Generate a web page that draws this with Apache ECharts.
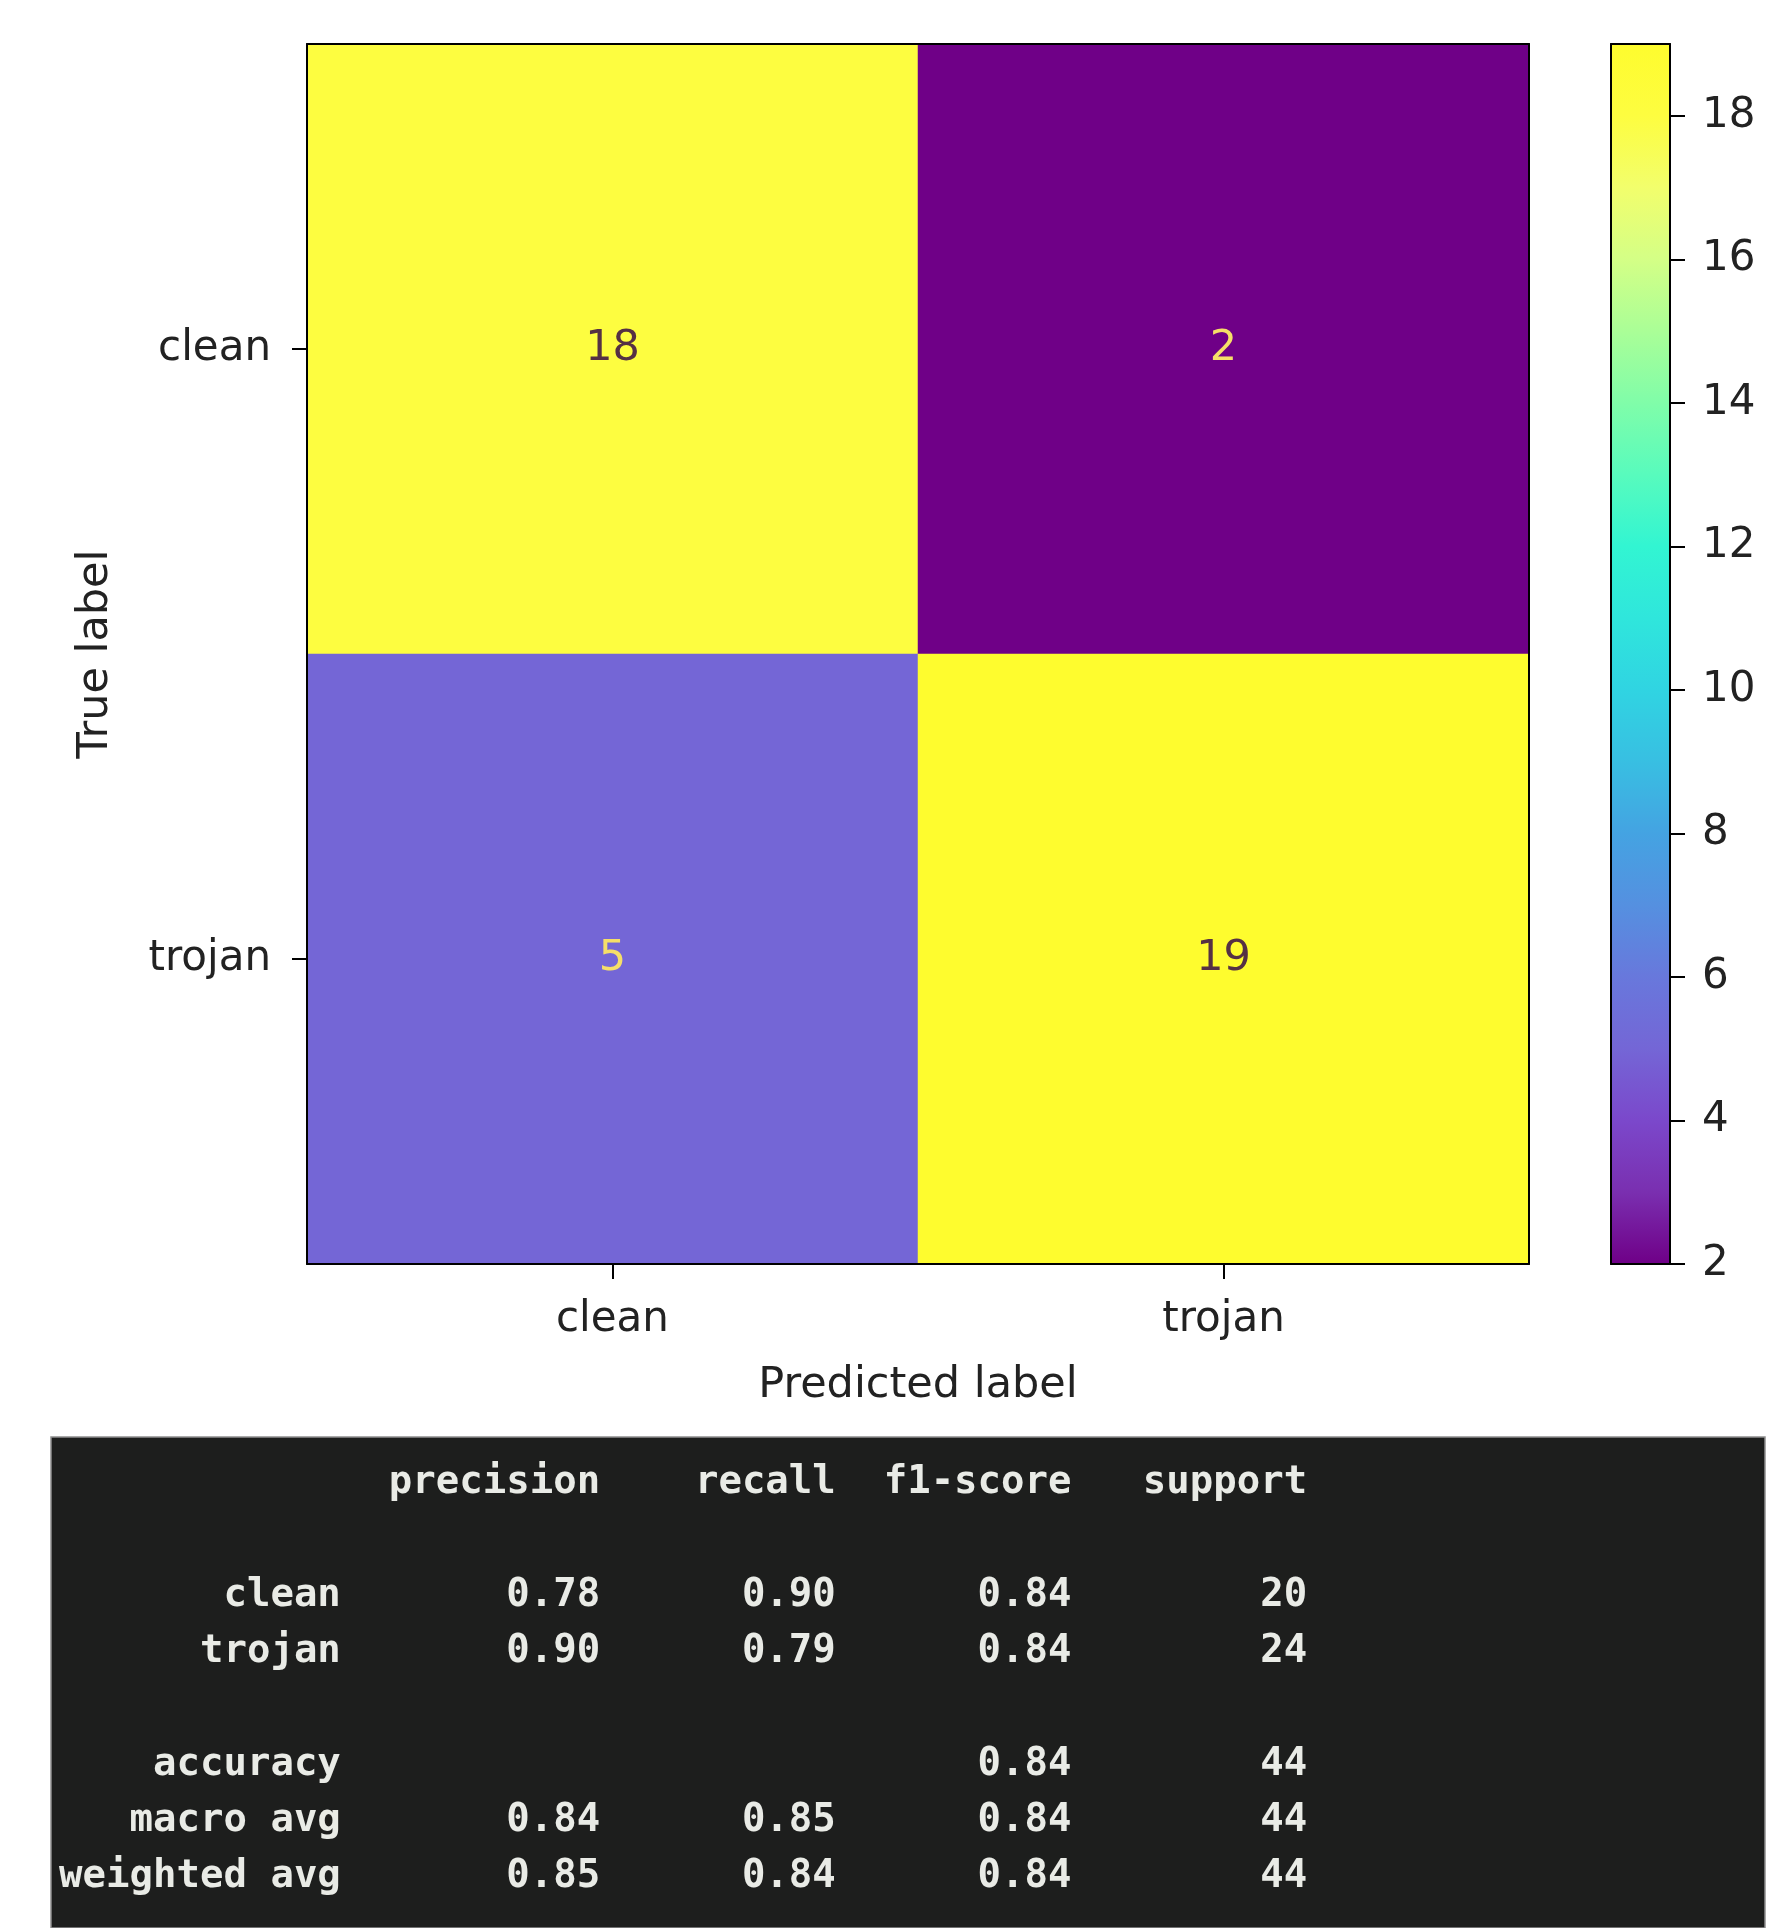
<!DOCTYPE html>
<html>
<head>
<meta charset="utf-8">
<script src="https://cdn.jsdelivr.net/npm/echarts@6/dist/echarts.min.js"></script>
<style>
  html, body { margin: 0; padding: 0; background: #ffffff; }
  #chart { width: 1771px; height: 1928px; }
</style>
</head>
<body>
<div id="chart"></div>
<script>
// ---- data ----
const categories = ['clean', 'trojan'];
const rowClean = [18, 2];    // true clean: predicted clean, predicted trojan
const rowTrojan = [5, 19];   // true trojan: predicted clean, predicted trojan
const colorMin = 2;
const colorMax = 19;
const colorTickStep = 2;
const cmapColors = [
  '#6f0087', '#7a2fb0', '#7b48cb', '#7466d6', '#6878dc', '#5590e0',
  '#44a3e2', '#38bfe2', '#30d4e2', '#2fe6dc', '#32f5d2', '#58fbbd',
  '#80fda9', '#aafe97', '#d4ff86', '#f2fe6c', '#fdfd40', '#fefc2e'
];

// classification report
const reportHeaders = ['precision', 'recall', 'f1-score', 'support'];
const reportLabels = ['clean', 'trojan', 'accuracy', 'macro avg', 'weighted avg'];
const reportLines = [2, 3, 5, 6, 7];
const precisionVals = ['0.78', '0.90', '', '0.84', '0.85'];
const recallVals = ['0.90', '0.79', '', '0.85', '0.84'];
const f1Vals = ['0.84', '0.84', '0.84', '0.84', '0.84'];
const supportVals = ['20', '24', '44', '44', '44'];

// ---- build ----
const matrix = [rowClean, rowTrojan];
const heatData = [];
matrix.forEach((row, yi) => {
  row.forEach((v, xi) => {
    const bright = v > (colorMin + colorMax) / 2;
    heatData.push({
      value: [xi, yi, v],
      label: { color: bright ? '#553044' : '#f6df68' }
    });
  });
});

const axisFont = '"DejaVu Sans", sans-serif';
const axisColor = '#222222';
const monoFont = '"DejaVu Sans Mono", monospace';

// report layout (text layout only)
const repLeft = 58, charW = 23.57, repTop = 1483, lineH = 56.3;
const colEnds = [12, 23, 33, 43, 53];
const repElements = [];
repElements.push({
  type: 'rect', silent: true, z: 0,
  shape: { x: 51, y: 1437, width: 1714, height: 491 },
  style: { fill: '#1d1e1d', stroke: '#8f8f8f', lineWidth: 1.5 }
});
function repText(str, col, line) {
  if (!str) return;
  repElements.push({
    type: 'text', silent: true, z: 1,
    style: {
      text: str,
      x: repLeft + colEnds[col] * charW,
      y: repTop + line * lineH,
      font: 'bold 39px ' + monoFont,
      fill: '#e9ebe6',
      align: 'right', textAlign: 'right',
      verticalAlign: 'middle', textVerticalAlign: 'middle'
    }
  });
}
reportHeaders.forEach((h, i) => repText(h, i + 1, 0));
reportLabels.forEach((lab, r) => {
  const ln = reportLines[r];
  repText(lab, 0, ln);
  repText(precisionVals[r], 1, ln);
  repText(recallVals[r], 2, ln);
  repText(f1Vals[r], 3, ln);
  repText(supportVals[r], 4, ln);
});

const chart = echarts.init(document.getElementById('chart'), null, { renderer: 'canvas' });

const frameAxisX = (gridIndex, position) => ({
  type: 'value', gridIndex, position, min: 0, max: 1, z: 10,
  axisLine: { show: true, onZero: false, lineStyle: { color: '#000', width: 2 } },
  axisTick: { show: false }, axisLabel: { show: false }, splitLine: { show: false }
});
const frameAxisY = (gridIndex, position) => ({
  type: 'value', gridIndex, position, min: 0, max: 1, z: 10,
  axisLine: { show: true, onZero: false, lineStyle: { color: '#000', width: 2 } },
  axisTick: { show: false }, axisLabel: { show: false }, splitLine: { show: false }
});

const option = {
  backgroundColor: '#ffffff',
  animation: false,
  grid: [
    { left: 307, top: 44, width: 1222, height: 1220, containLabel: false },
    { left: 1611, top: 44, width: 59, height: 1220, containLabel: false }
  ],
  xAxis: [
    {
      type: 'category', gridIndex: 0, data: categories, position: 'bottom', z: 10,
      name: 'Predicted label', nameLocation: 'middle', nameGap: 100,
      nameTextStyle: { fontFamily: axisFont, fontSize: 43, color: axisColor },
      axisLine: { show: true, lineStyle: { color: '#000', width: 2 } },
      axisTick: { show: true, alignWithLabel: true, length: 15, lineStyle: { color: '#000', width: 2 } },
      axisLabel: { fontFamily: axisFont, fontSize: 42, color: axisColor, margin: 35 },
      splitLine: { show: false }
    },
    frameAxisX(0, 'top'),
    frameAxisX(1, 'bottom'),
    frameAxisX(1, 'top')
  ],
  yAxis: [
    {
      type: 'category', gridIndex: 0, data: categories, inverse: true, position: 'left', z: 10,
      name: 'True label', nameLocation: 'middle', nameGap: 190,
      nameTextStyle: { fontFamily: axisFont, fontSize: 43, color: axisColor },
      axisLine: { show: true, lineStyle: { color: '#000', width: 2 } },
      axisTick: { show: true, alignWithLabel: true, length: 15, lineStyle: { color: '#000', width: 2 } },
      axisLabel: { fontFamily: axisFont, fontSize: 42, color: axisColor, margin: 36,
        padding: [12, 0, 0, 0] },
      splitLine: { show: false }
    },
    frameAxisY(0, 'right'),
    {
      type: 'value', gridIndex: 1, position: 'right', min: colorMin, max: colorMax,
      interval: colorTickStep, z: 10,
      axisLine: { show: true, onZero: false, lineStyle: { color: '#000', width: 2 } },
      axisTick: { show: true, length: 15, lineStyle: { color: '#000', width: 2 } },
      axisLabel: {
        fontFamily: axisFont, fontSize: 42, color: axisColor, margin: 32,
        showMaxLabel: false, padding: [10, 0, 0, 0]
      },
      splitLine: { show: false }
    },
    frameAxisY(1, 'left')
  ],
  visualMap: {
    show: false, type: 'continuous', min: colorMin, max: colorMax,
    seriesIndex: 0, dimension: 2,
    inRange: { color: cmapColors }
  },
  graphic: { elements: repElements },
  series: [
    {
      type: 'heatmap', xAxisIndex: 0, yAxisIndex: 0,
      data: heatData,
      itemStyle: { borderWidth: 0 },
      label: { show: true, fontFamily: axisFont, fontSize: 43,
        formatter: p => String(p.value[2]) },
      emphasis: { disabled: true }
    },
    {
      type: 'custom', xAxisIndex: 2, yAxisIndex: 2,
      data: [[0, colorMin, 1, colorMax]],
      silent: true, z: 2,
      renderItem: function (params, api) {
        const p0 = api.coord([api.value(0), api.value(3)]);
        const p1 = api.coord([api.value(2), api.value(1)]);
        const stops = cmapColors.map((c, i) => ({
          offset: 1 - i / (cmapColors.length - 1), color: c
        })).reverse();
        return {
          type: 'rect',
          shape: { x: p0[0], y: p0[1], width: p1[0] - p0[0], height: p1[1] - p0[1] },
          style: { fill: new echarts.graphic.LinearGradient(0, 0, 0, 1, stops) }
        };
      }
    }
  ]
};
chart.setOption(option);
</script>
</body>
</html>
